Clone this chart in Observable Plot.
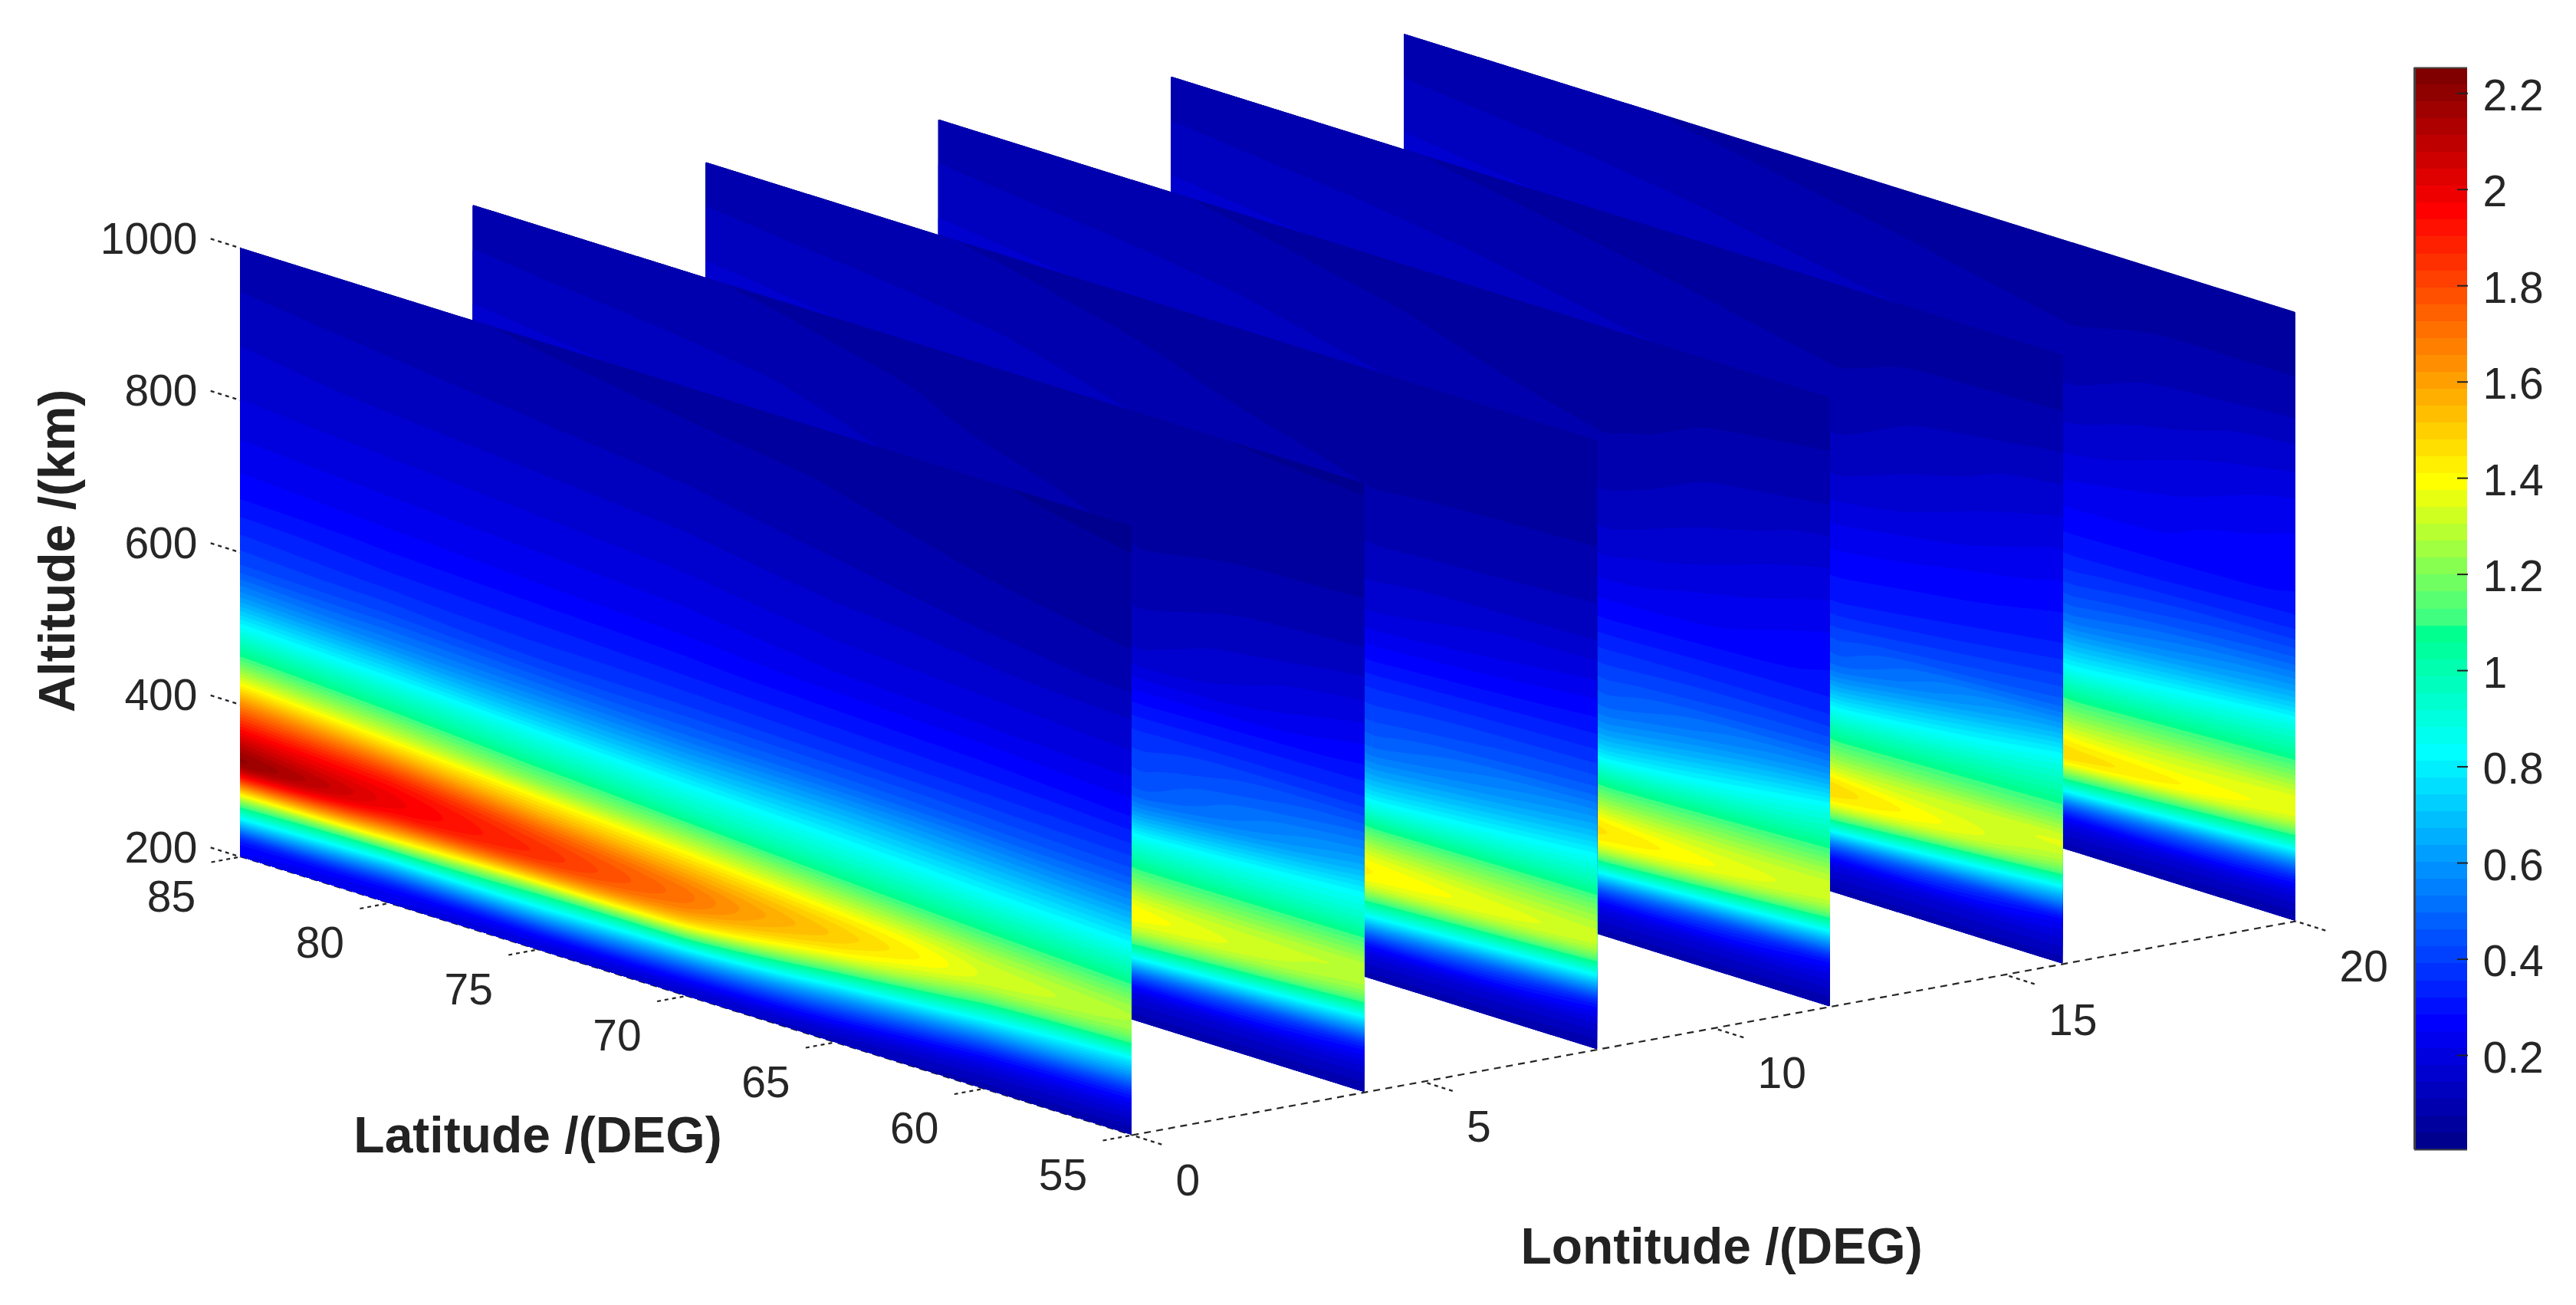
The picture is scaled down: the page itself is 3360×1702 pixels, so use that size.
<!DOCTYPE html>
<html>
<head>
<meta charset="utf-8">
<script src="https://cdn.jsdelivr.net/npm/d3@7"></script>
<script src="https://cdn.jsdelivr.net/npm/@observablehq/plot@0.6"></script>
<style>
html,body{margin:0;padding:0;background:#fff}
#chart{position:relative;width:3360px;height:1702px;overflow:hidden}
#chart svg{position:absolute;left:0;top:0;background:transparent;max-width:none}
</style>
</head>
<body>
<div id="chart"></div>
<script>
// Altitude rows shared by every column (km)
const altitudes = [200,220,240,260,280,300,320,340,360,380,400,420,440,460,480,500,540,580,620,680,740,800,870,940,1000];
const sliceLons = [0,4,8,12,16,20];

// Longitude 0: columns
const lat85 = [.24,.28,.65,1.02,1.36,1.86,2.24,2.14,2,1.83,1.66,1.45,1.27,1.11,.98,.85,.6,.43,.36,.27,.22,.18,.145,.11,.09];
const lat80 = [.2,.26,.55,.89,1.31,1.7,1.98,2,1.92,1.74,1.52,1.33,1.19,1.04,.93,.8,.56,.42,.34,.26,.21,.17,.13,.1,.08];
const lat75 = [.16,.27,.58,.89,1.2,1.64,1.88,1.85,1.74,1.55,1.4,1.21,1.09,.96,.87,.73,.53,.39,.33,.25,.2,.16,.12,.09,.07];
const lat70 = [.12,.25,.5,.81,1.2,1.55,1.71,1.71,1.59,1.45,1.3,1.16,1,.91,.81,.69,.5,.39,.32,.24,.19,.15,.11,.08,.06];
const lat65 = [.1,.2,.39,.62,.91,1.22,1.44,1.53,1.47,1.34,1.21,1.07,.96,.87,.77,.68,.49,.38,.31,.22,.17,.13,.09,.07,.05];
const lat60 = [.08,.15,.25,.45,.7,.95,1.19,1.34,1.33,1.25,1.13,1.02,.92,.82,.73,.64,.47,.37,.3,.21,.16,.11,.075,.055,.04];
const lat55 = [.07,.14,.23,.38,.62,.8,1.11,1.26,1.28,1.19,1.08,.98,.88,.78,.69,.6,.45,.36,.28,.2,.15,.09,.06,.045,.03];

// Rear slices: only their right-hand ends show, so two columns are read for each
const lon4Lat62 = [.08,.14,.22,.45,.8,1.1,1.32,1.42,1.33,1.2,1.09,.97,.86,.7,.56,.46,.41,.36,.28,.15,.11,.08,.06,.05,.04];
const lon4Lat55 = [.07,.13,.2,.3,.57,.84,1.14,1.28,1.32,1.22,1.11,.99,.9,.83,.72,.63,.5,.37,.3,.22,.15,.095,.065,.05,.035];
const lon8Lat62 = [.08,.15,.24,.5,.82,1.08,1.34,1.43,1.35,1.22,1.08,.92,.78,.67,.58,.5,.42,.36,.28,.18,.13,.09,.065,.05,.04];
const lon8Lat55 = [.07,.13,.2,.3,.58,.87,1.17,1.34,1.3,1.22,1.11,.99,.9,.8,.7,.62,.47,.38,.31,.22,.14,.1,.07,.055,.04];
const lon12Lat62 = [.08,.15,.23,.45,.8,1.14,1.4,1.47,1.34,1.2,1.07,.92,.76,.65,.56,.49,.42,.35,.28,.2,.14,.1,.07,.055,.04];
const lon12Lat55 = [.07,.13,.2,.28,.55,.84,1.16,1.33,1.33,1.24,1.13,1.03,.94,.86,.74,.62,.46,.36,.3,.26,.21,.16,.1,.07,.05];
const lon16Lat62 = [.08,.15,.22,.46,.84,1.18,1.44,1.48,1.33,1.2,1.09,.97,.84,.7,.58,.48,.41,.32,.28,.22,.15,.11,.08,.06,.045];
const lon16Lat55 = [.08,.14,.2,.26,.55,.79,1.16,1.3,1.37,1.25,1.13,1.05,.97,.89,.8,.68,.48,.39,.32,.27,.22,.17,.11,.065,.05];
const lon20Lat62 = [.08,.15,.24,.5,.9,1.2,1.5,1.43,1.31,1.19,1.08,.96,.83,.72,.62,.52,.41,.33,.28,.22,.16,.115,.08,.06,.045];
const lon20Lat55 = [.07,.13,.21,.36,.62,.92,1.2,1.38,1.37,1.26,1.15,1.05,.96,.87,.74,.64,.48,.36,.29,.27,.23,.17,.1,.06,.04];

const sliceColumns = [
  [[85,lat85],[80,lat80],[75,lat75],[70,lat70],[65,lat65],[60,lat60],[55,lat55]],
  [[85,lat85],[75,lat75],[62.5,lon4Lat62],[55,lon4Lat55]],
  [[85,lat85],[75,lat75],[62.5,lon8Lat62],[55,lon8Lat55]],
  [[85,lat85],[75,lat75],[62.5,lon12Lat62],[55,lon12Lat55]],
  [[85,lat85],[75,lat75],[62.5,lon16Lat62],[55,lon16Lat55]],
  [[85,lat85],[75,lat75],[62.5,lon20Lat62],[55,lon20Lat55]]
];

// Axis ticks
const altTicks = [200,400,600,800,1000];
const latTicks = [85,80,75,70,65,60,55];
const lonTicks = [0,5,10,15,20];
const barTicks = [0.2,0.4,0.6,0.8,1,1.2,1.4,1.6,1.8,2,2.2];
const valueMin = 0.004, valueMax = 2.253, levelCount = 64;

// Oblique projection of (latitude, longitude, altitude) on to the picture
const latX = 1163/30, latY = 363/30, lonX = 303.6/4, lonY = 55.8/4, altY = 0.9925;
const px = (lat,lon) => 313 + (85-lat)*latX + lon*lonX;
const py = (lat,lon,alt) => 1117 - (alt-200)*altY + (85-lat)*latY - lon*lonY;

// MATLAB-style 64 level jet as it appears in the picture
const clamp = v => Math.max(0,Math.min(1,v));
const jet = i => {
  const t = (i+1)/levelCount;
  let r = clamp(Math.min(4*t-1.5,-4*t+4.5));
  if (t < 0.625) r = r < 0.5 ? 0 : 1-1.5*(1-r);
  const g = clamp(Math.min(4*t-0.5,-4*t+3.5)), b = clamp(Math.min(4*t+0.5,-4*t+2.5));
  return d3.rgb(r*255,g*255,b*255).formatHex();
};
const step = (valueMax-valueMin)/levelCount;
const levels = d3.range(levelCount).map(i => valueMin+i*step);
const colorScale = {type:"threshold",domain:levels.slice(1),range:levels.map((_,i)=>jet(i))};

const ink = "#262626";
const font = "'Liberation Sans', Arial, sans-serif";
const shearK = latY/latX;
const shear = lon => (index,scales,values,dims,context,next) => {
  const g = next(index,scales,values,dims,context);
  const dx = px(85,lon)-px(85,0);
  const dy = py(85,lon,200)-py(85,0,200)-shearK*px(85,0);
  g.setAttribute("transform",`matrix(1 ${shearK} 0 1 ${dx} ${dy})`);
  return g;
};

const sliceMark = (lon,columns) => Plot.contour(
  columns.flatMap(([lat,vals]) => vals.map((v,j) => ({lat,alt:altitudes[j],v}))),
  {
    x: d => px(d.lat,0), y: d => py(85,0,d.alt), fill: d => d.v,
    x1: px(85,0), x2: px(55,0), y1: py(85,0,1000), y2: py(85,0,200),
    thresholds: levels, interpolate: "barycentric", blur: 3, pixelSize: 2,
    stroke: "none", render: shear(lon)
  });

const dashed = {stroke:ink,strokeWidth:2.2};
const tickText = {fill:ink,fontSize:57,fontFamily:font};
const titleText = {fill:"#222",fontSize:66,fontWeight:"bold",fontFamily:font};

const main = Plot.plot({
  width:3360,height:1702,margin:0,
  x:{domain:[0,3360],range:[0,3360],axis:null},
  y:{domain:[0,1702],range:[0,1702],axis:null},
  color:colorScale,
  style:{background:"transparent"},
  marks:[
    // axis lines and ticks
    Plot.link([0],{x1:()=>px(55,0),y1:()=>py(55,0,200),x2:()=>px(55,20),y2:()=>py(55,20,200),...dashed,strokeDasharray:"9 7"}),
    Plot.link([0],{x1:()=>px(85,0),y1:()=>py(85,0,200),x2:()=>px(55,0),y2:()=>py(55,0,200),stroke:ink,strokeWidth:1.4,strokeDasharray:"9 7"}),
    Plot.link(altTicks,{x1:a=>px(86,0),y1:a=>py(86,0,a),x2:a=>px(85,0),y2:a=>py(85,0,a),...dashed,strokeDasharray:"5 5"}),
    Plot.link(latTicks,{x1:l=>px(l,-0.5),y1:l=>py(l,-0.5,200),x2:l=>px(l,0),y2:l=>py(l,0,200),...dashed,strokeDasharray:"5 5"}),
    Plot.link(lonTicks,{x1:l=>px(54,l),y1:l=>py(54,l,200),x2:l=>px(55,l),y2:l=>py(55,l,200),...dashed,strokeDasharray:"5 5"}),
    // slices, rear to front
    ...sliceLons.map((lon,i)=>sliceMark(lon,sliceColumns[i])).reverse(),
    // tick labels
    Plot.text(altTicks,{x:()=>px(85,0)-56,y:a=>py(85,0,a)-11,text:a=>String(a),textAnchor:"end",lineAnchor:"middle",...tickText}),
    Plot.text(latTicks,{x:l=>px(l,0)-90,y:l=>py(l,0,200)+53,text:l=>String(l),textAnchor:"middle",lineAnchor:"middle",...tickText}),
    Plot.text(lonTicks,{x:l=>px(55,l)+57,y:l=>py(55,l,200)+60,text:l=>String(l),textAnchor:"start",lineAnchor:"middle",...tickText}),
    // axis titles
    Plot.text(["Altitude /(km)"],{x:()=>75,y:()=>718,text:d=>d,rotate:-90,textAnchor:"middle",lineAnchor:"middle",...titleText}),
    Plot.text(["Latitude /(DEG)"],{x:()=>701,y:()=>1481,text:d=>d,textAnchor:"middle",lineAnchor:"middle",...titleText}),
    Plot.text(["Lontitude /(DEG)"],{x:()=>2245,y:()=>1626,text:d=>d,textAnchor:"middle",lineAnchor:"middle",...titleText})
  ]
});

const bar = Plot.plot({
  width:3360,height:1702,marginLeft:3149,marginRight:142,marginTop:88,marginBottom:203,
  x:{domain:[0,1],axis:null},
  y:{domain:[valueMin,valueMax],axis:null},
  color:colorScale,
  style:{background:"transparent"},
  marks:[
    Plot.rect(levels,{x1:0,x2:1,y1:v=>v,y2:v=>v+step,fill:v=>v,shapeRendering:"crispEdges"}),
    Plot.ruleX([0],{stroke:"#444",strokeWidth:3}),
    Plot.ruleY([valueMin,valueMax],{stroke:"#444",strokeWidth:2}),
    Plot.axisY({anchor:"right",ticks:barTicks,tickSize:-14,tickPadding:34,textStroke:"none",tickFormat:d=>String(d),fontSize:57,fontFamily:font,color:ink,stroke:"#222",strokeWidth:2,label:null})
  ]
});

const root = document.getElementById("chart");
root.append(main,bar);
// the colour bar's tick labels sit slightly lower than their ticks in the reference
bar.querySelectorAll('g[aria-label="y-axis tick label"]').forEach(g => {
  g.setAttribute("transform",(g.getAttribute("transform")||"")+" translate(0,4)");
});
</script>
</body>
</html>
